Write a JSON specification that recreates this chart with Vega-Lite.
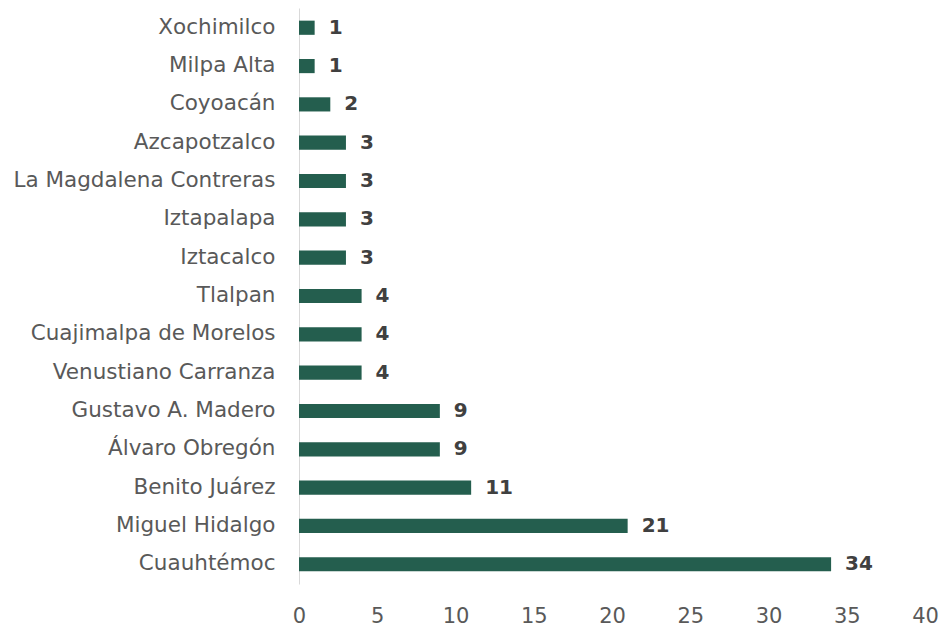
{
  "$schema": "https://vega.github.io/schema/vega-lite/v6.json",
  "autosize": {"type": "none"},
  "width": 626,
  "height": 576,
  "padding": {"left": 299, "top": 8, "right": 16, "bottom": 45},
  "background": "white",
  "config": {"view": {"stroke": null}, "font": "DejaVu Sans"},
  "data": {"values": [
    {"alcaldia": "Xochimilco", "n": 1},
    {"alcaldia": "Milpa Alta", "n": 1},
    {"alcaldia": "Coyoacán", "n": 2},
    {"alcaldia": "Azcapotzalco", "n": 3},
    {"alcaldia": "La Magdalena Contreras", "n": 3},
    {"alcaldia": "Iztapalapa", "n": 3},
    {"alcaldia": "Iztacalco", "n": 3},
    {"alcaldia": "Tlalpan", "n": 4},
    {"alcaldia": "Cuajimalpa de Morelos", "n": 4},
    {"alcaldia": "Venustiano Carranza", "n": 4},
    {"alcaldia": "Gustavo A. Madero", "n": 9},
    {"alcaldia": "Álvaro Obregón", "n": 9},
    {"alcaldia": "Benito Juárez", "n": 11},
    {"alcaldia": "Miguel Hidalgo", "n": 21},
    {"alcaldia": "Cuauhtémoc", "n": 34}
  ]},
  "encoding": {
    "y": {"field": "alcaldia", "type": "nominal", "sort": null, "title": null,
      "scale": {"paddingInner": 0.63, "paddingOuter": 0.33},
      "axis": {"ticks": false, "domainColor": "#d9d9d9", "domainWidth": 1, "labelFontSize": 21.5, "labelColor": "#595959", "labelPadding": 24, "labelLimit": 320, "labelFont": "DejaVu Sans"}},
    "x": {"field": "n", "type": "quantitative", "title": null,
      "scale": {"domain": [0, 40], "nice": false},
      "axis": {"values": [0,5,10,15,20,25,30,35,40], "grid": false, "ticks": false, "domain": false, "labelFlush": false, "labelFontSize": 21, "labelColor": "#595959", "labelPadding": 21, "labelFont": "DejaVu Sans"}}
  },
  "layer": [
    {"mark": {"type": "bar", "color": "#245E4E"}},
    {"mark": {"type": "text", "align": "left", "baseline": "middle", "dx": 14, "fontSize": 20, "fontWeight": "bold", "color": "#404040", "font": "DejaVu Sans"},
     "encoding": {"text": {"field": "n", "type": "quantitative"}}}
  ]
}
